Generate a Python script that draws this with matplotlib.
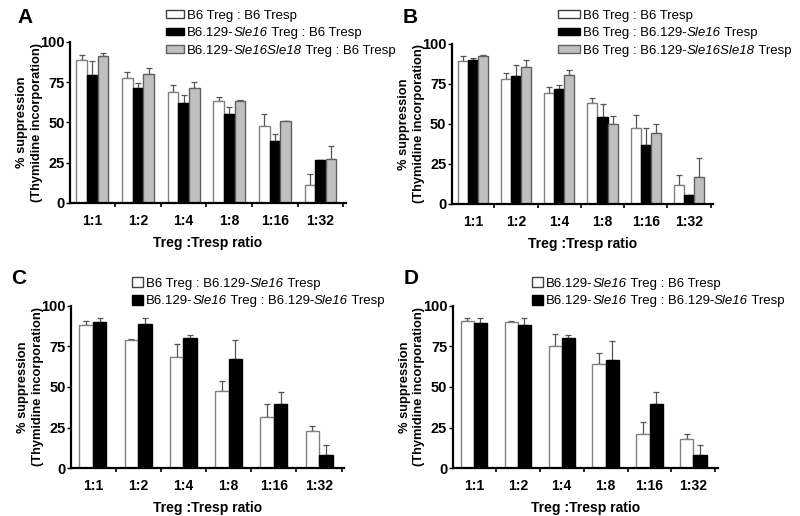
import matplotlib
matplotlib.use('Agg')
import matplotlib.pyplot as plt
import numpy as np
from matplotlib.patches import Rectangle

plt.rcParams['font.family'] = ['Liberation Sans', 'DejaVu Sans']

# -----------------------------------------------------------------------------
# data

ratios = ['1:1', '1:2', '1:4', '1:8', '1:16', '1:32']

a_b6 = [89, 77.5, 69, 63, 47.5, 11]
a_b6_err = [3.1, 3.8, 4, 2.7, 7.7, 6.8]
a_sle16 = [79.5, 71.3, 61.7, 55, 38.3, 26.3]
a_sle16_err = [8.5, 3.1, 5.2, 4.3, 4.6, 0]
a_sle1618 = [91.2, 79.7, 71.4, 63, 50.5, 27.3]
a_sle1618_err = [2.1, 4.3, 3.8, 1.1, 0.4, 8.1]

b_b6 = [89.4, 77.9, 69.4, 63.3, 47.7, 11.9]
b_b6_err = [3.1, 3.6, 3.7, 3, 7.9, 6.4]
b_sle16 = [90, 80, 72, 54.2, 36.7, 5.4]
b_sle16_err = [1.3, 6.7, 2, 8.5, 11, 0]
b_sle1618 = [92.5, 85.6, 80.8, 49.8, 44.4, 16.7]
b_sle1618_err = [0.6, 4.4, 2.7, 5.2, 5.4, 11.8]

c_b6 = [88.5, 79.1, 68.6, 47.3, 31.4, 23]
c_b6_err = [2.1, 0.6, 8, 6.2, 8.1, 3.2]
c_sle16 = [90, 88.9, 80.3, 67, 39.3, 8.2]
c_sle16_err = [2.8, 3.9, 1.5, 11.7, 7.8, 6.3]

d_b6 = [90.8, 90.4, 75, 64.5, 20.7, 18]
d_b6_err = [1.6, 0.4, 8, 6.2, 7.8, 3.3]
d_sle16 = [89.8, 88.5, 80.3, 66.4, 39.3, 8]
d_sle16_err = [2.6, 3.9, 1.5, 11.7, 7.6, 6.3]

# legend labels, *...* marks italic parts
legend_a = ['B6 Treg : B6 Tresp',
            'B6.129-*Sle16* Treg : B6 Tresp',
            'B6.129-*Sle16Sle18* Treg : B6 Tresp']
legend_b = ['B6 Treg : B6 Tresp',
            'B6 Treg : B6.129-*Sle16* Tresp',
            'B6 Treg : B6.129-*Sle16Sle18* Tresp']
legend_c = ['B6 Treg : B6.129-*Sle16* Tresp',
            'B6.129-*Sle16* Treg : B6.129-*Sle16* Tresp']
legend_d = ['B6.129-*Sle16* Treg : B6 Tresp',
            'B6.129-*Sle16* Treg : B6.129-*Sle16* Tresp']

# styles: (face, edge)
styles = [('white', '#808080'), ('black', 'black'), ('#c0c0c0', '#606060')]
leg_edges = ['#404040', 'black', '#606060']

W, H = 800, 516

# -----------------------------------------------------------------------------
# plot

fig = plt.figure(figsize=(8, 5.16), dpi=100)
renderer = fig.canvas.get_renderer()


def legend(x0, rows_y, box_w, box_h, labels):
    # hand-made legend so that italic pieces sit inline with normal text
    for i, (lab, yc) in enumerate(zip(labels, rows_y)):
        fig.add_artist(Rectangle((x0 / W, 1 - (yc + box_h / 2) / H),
                                 box_w / W, box_h / H,
                                 transform=fig.transFigure,
                                 facecolor=styles[i][0], edgecolor=leg_edges[i],
                                 linewidth=1.0))
        x = x0 + box_w + 3
        for k, piece in enumerate(lab.split('*')):
            if not piece:
                continue
            t = fig.text(x / W, 1 - (yc + 4.6) / H, piece, fontsize=9.5,
                         style='italic' if k % 2 else 'normal',
                         ha='left', va='baseline')
            x += t.get_window_extent(renderer).width


def panel(rect, letter, series, errs, group_w, letter_xy, ylab_x):
    ax = fig.add_axes(rect)
    n = len(series)
    w = group_w / n
    x = np.arange(len(ratios))
    for i, (vals, err) in enumerate(zip(series, errs)):
        fc, ec = styles[i]
        pos = x - group_w / 2 + w * (i + 0.5)
        ax.bar(pos, vals, w, color=fc, edgecolor=ec, linewidth=1.0, zorder=2)
        ax.errorbar(pos, vals, yerr=[np.zeros(len(vals)), err], fmt='none',
                    ecolor='#555555', elinewidth=0.9, capsize=2, capthick=0.9,
                    zorder=1)
    ax.set_xlim(-0.48, 5.55)
    ax.set_ylim(0, 100)
    ax.set_yticks([0, 25, 50, 75, 100])
    ax.set_xticks(x)
    ax.set_xticklabels(ratios, fontweight='bold', fontsize=10)
    ax.set_xticks(np.arange(0.5, 6, 1), minor=True)
    ax.tick_params(axis='x', which='major', length=0, pad=8)
    ax.tick_params(axis='x', which='minor', length=3, width=1.2, direction='out')
    ax.tick_params(axis='y', length=3, width=1, pad=1, labelsize=10.5)
    for t in ax.get_yticklabels():
        t.set_fontweight('bold')
    for s in ['top', 'right']:
        ax.spines[s].set_visible(False)
    for s in ['left', 'bottom']:
        ax.spines[s].set_linewidth(1.6)
    ax.set_xlabel('Treg :Tresp ratio', fontweight='bold', fontsize=10,
                  labelpad=6)
    ax.set_ylabel('% suppression\n(Thymidine incorporation)',
                  fontweight='bold', fontsize=9.3, linespacing=1.3)
    ax.yaxis.set_label_coords(ylab_x, 0.5)
    fig.text(letter_xy[0] / W, 1 - letter_xy[1] / H, letter, fontsize=15,
             fontweight='bold', ha='center', va='center')
    return ax


panel([0.088, 0.607, 0.344, 0.312], 'A',
      [a_b6, a_sle16, a_sle1618], [a_b6_err, a_sle16_err, a_sle1618_err],
      0.7, (25, 17), -0.1)
legend(166, [14, 31.5, 49], 18, 7, legend_a)

panel([0.565, 0.605, 0.326, 0.310], 'B',
      [b_b6, b_sle16, b_sle1618], [b_b6_err, b_sle16_err, b_sle1618_err],
      0.7, (410, 17), -0.105)
legend(558, [14, 31.5, 49], 22, 7, legend_b)

panel([0.089, 0.093, 0.341, 0.314], 'C',
      [c_b6, c_sle16], [c_b6_err, c_sle16_err],
      0.6, (19, 278), -0.1)
legend(132, [282, 299.5], 11, 10, legend_c)

panel([0.566, 0.093, 0.331, 0.314], 'D',
      [d_b6, d_sle16], [d_b6_err, d_sle16_err],
      0.6, (411, 278), -0.104)
legend(532, [282, 299.5], 11, 10, legend_d)

fig.savefig('out.png', dpi=100)
